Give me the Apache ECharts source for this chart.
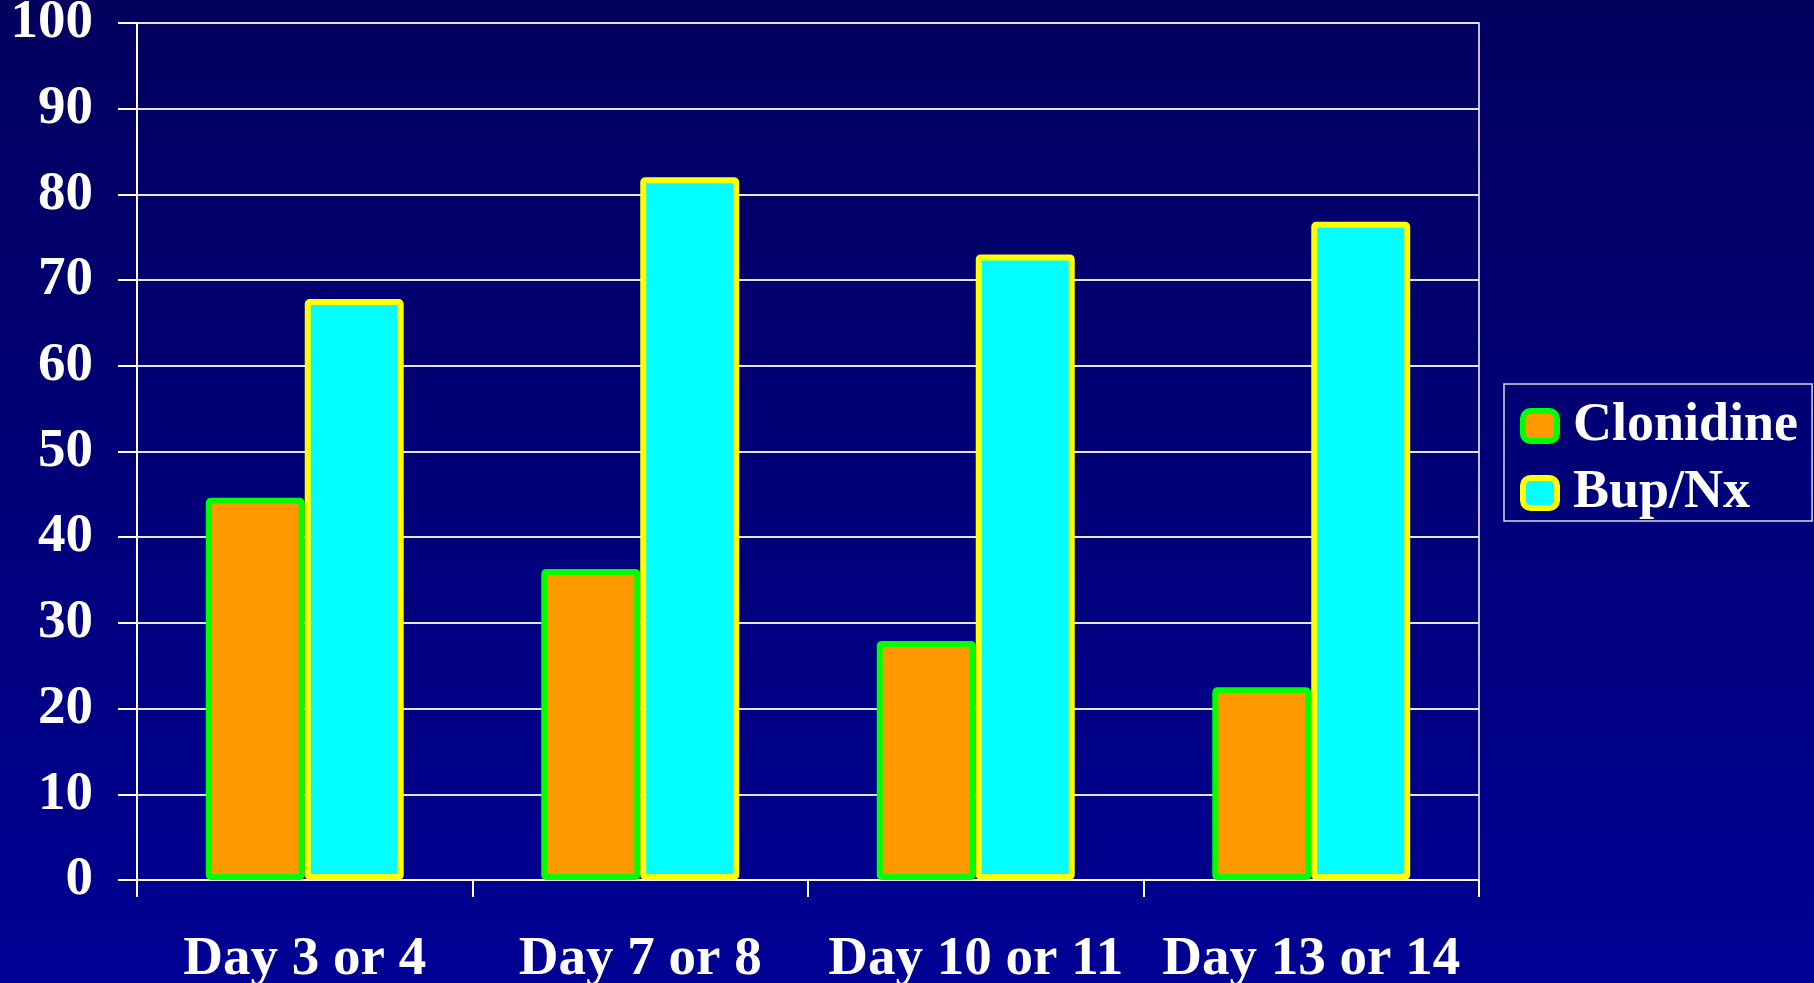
<!DOCTYPE html>
<html>
<head>
<meta charset="utf-8">
<script src="https://cdn.jsdelivr.net/npm/echarts@6/dist/echarts.min.js"></script>
<style>
html,body{margin:0;padding:0;width:1814px;height:983px;overflow:hidden;background:#00007a;}
#chart{width:1814px;height:983px;}
</style>
</head>
<body>
<div id="chart"></div>
<script>
const categories = ["Day 3 or 4", "Day 7 or 8", "Day 10 or 11", "Day 13 or 14"];
const clonidine = [44.6, 36.3, 27.9, 22.5];
const bupNx = [67.8, 82.0, 73.0, 76.8];
const seriesNames = ["Clonidine", "Bup/Nx"];

const chart = echarts.init(document.getElementById('chart'));
const font = '"Liberation Serif", "Times New Roman", serif';
chart.setOption({
  animation: false,
  backgroundColor: new echarts.graphic.LinearGradient(0, 0, 0, 1, [
    {offset: 0, color: '#03005e'},
    {offset: 1, color: '#000094'}
  ]),
  grid: {
    left: 137, right: 335, top: 23, bottom: 103,
    containLabel: false,
    outerBoundsMode: 'none',
    show: true, borderColor: '#ffffff', borderWidth: 1.5,
    backgroundColor: 'transparent'
  },
  legend: {
    left: 1504, top: 384,
    orient: 'vertical',
    padding: [15, 14, 1, 16],
    borderColor: '#d8d8e8', borderWidth: 1.5,
    backgroundColor: 'rgba(0,0,120,0.15)',
    itemWidth: 34, itemHeight: 30, itemGap: 13,
    icon: 'roundRect',
    textStyle: {color: '#fff', fontFamily: font, fontWeight: 'bold', fontSize: 54, lineHeight: 54, padding: [0,0,0,11]},
    data: [
      {name: seriesNames[0], itemStyle: {color: '#ff9900', borderColor: '#00ff00', borderWidth: 6}},
      {name: seriesNames[1], itemStyle: {color: '#00ffff', borderColor: '#ffff00', borderWidth: 6}}
    ]
  },
  xAxis: {
    type: 'category',
    data: categories,
    axisLine: {lineStyle: {color: '#fff', width: 1.5}},
    axisTick: {show: true, alignWithLabel: false, length: 17, lineStyle: {color: '#fff', width: 2}},
    axisLabel: {color: '#fff', fontFamily: font, fontWeight: 'bold', fontSize: 55, margin: 52, interval: 0}
  },
  yAxis: {
    type: 'value', min: 0, max: 100, interval: 10,
    axisLine: {show: true, lineStyle: {color: '#fff', width: 2}},
    axisTick: {show: true, length: 19, lineStyle: {color: '#fff', width: 2}},
    splitLine: {lineStyle: {color: '#e4e4f0', width: 2}},
    axisLabel: {color: '#fff', fontFamily: font, fontWeight: 'bold', fontSize: 55, margin: 44, padding: [8, 0, 0, 0]}
  },
  series: [
    {
      name: seriesNames[0], type: 'bar', data: clonidine,
      barGap: '0%', barCategoryGap: '41%',
      itemStyle: {color: '#ff9900', borderColor: '#00ff00', borderWidth: 6, borderRadius: 2}
    },
    {
      name: seriesNames[1], type: 'bar', data: bupNx,
      barGap: '0%', barCategoryGap: '41%',
      itemStyle: {color: '#00ffff', borderColor: '#ffff00', borderWidth: 6, borderRadius: 2}
    }
  ]
});
</script>
</body>
</html>
